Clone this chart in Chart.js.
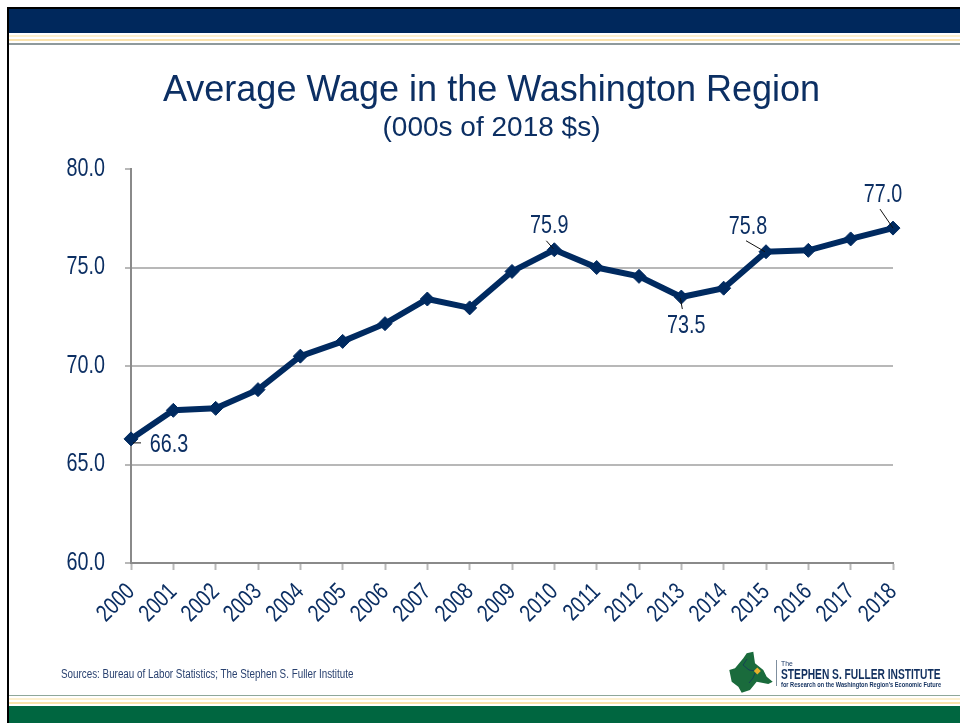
<!DOCTYPE html>
<html><head><meta charset="utf-8">
<style>
html,body{margin:0;padding:0;background:#fff;width:960px;height:723px;overflow:hidden}
.b{position:absolute;left:9px;right:0}
#wrap{position:absolute;left:0;top:0;width:960px;height:723px}
.t{position:absolute;white-space:nowrap;font-family:"Liberation Sans",Arial,sans-serif;color:#12305f;transform-origin:0 0}
.logo{position:absolute;left:729px;top:651px;width:231px;height:44px}
</style></head><body>
<div class="b" style="left:7px;top:7px;height:2px;background:#000"></div>
<div class="b" style="left:7px;width:2px;top:7px;height:716px;background:#000;right:auto"></div>
<div class="b" style="top:9px;height:24px;background:#00285c"></div>
<div class="b" style="top:35px;height:2px;background:#fdf0cf"></div>
<div class="b" style="top:39px;height:2px;background:#fbe3ad"></div>
<div class="b" style="top:43px;height:2px;background:#8f9a9c"></div>
<div class="b" style="top:695px;height:1px;background:#8fa79a"></div>
<div class="b" style="top:698px;height:2px;background:#fdf0cf"></div>
<div class="b" style="top:702px;height:2px;background:#fbe3ad"></div>
<div class="b" style="top:706px;height:17px;background:#006640"></div>
<div id="wrap"><canvas id="c" width="960" height="723"></canvas></div>
<div class="t" style="left:61px;top:667px;font-size:12px;transform:scaleX(.82);color:#2a4270">Sources: Bureau of Labor Statistics; The Stephen S. Fuller Institute</div>
<div class="logo">
<svg width="46" height="44" style="position:absolute;left:0;top:0" viewBox="0 0 46 44">
<path d="M0.3 19 L6 17.3 L14.3 7.3 L17.7 2.3 L24.3 0.7 L26 12.3 L34.3 19 L37.7 25.7 L43.7 30.7 L39.3 33 L27.7 30.7 L21 39 L12.7 41.7 L9.3 35.7 L2.7 30.7Z" fill="#1a6b3c"/>
<path d="M18 8 L14 14 L20 19 L27 20 L24 27 L20 32" fill="none" stroke="#12305f" stroke-width=".7"/>
<path d="M28.3 16.5 L31.8 20 L28.3 23.5 L24.8 20Z" fill="#e8b02a"/>
</svg>
<div style="position:absolute;left:47px;top:9px;width:1px;height:26px;background:#7f8f9f"></div>
<div class="t" style="left:52px;top:8px;font-size:8px;transform:scaleX(.85)">The</div>
<div class="t" style="left:52px;top:15px;font-size:14px;font-weight:bold;transform:scaleX(.73)">STEPHEN S. FULLER INSTITUTE</div>
<div class="t" style="left:52px;top:29px;font-size:8px;font-weight:bold;transform:scaleX(.708)">for Research on the Washington Region's Economic Future</div>
</div>
<script src="https://cdn.jsdelivr.net/npm/chart.js@4/dist/chart.umd.min.js"></script>
<script>
const years = ["2000","2001","2002","2003","2004","2005","2006","2007","2008","2009","2010","2011","2012","2013","2014","2015","2016","2017","2018"];
const wages = [66.3,67.75,67.85,68.8,70.5,71.25,72.15,73.4,72.95,74.8,75.9,75.0,74.55,73.5,73.95,75.8,75.87,76.45,77.0];
const yTicks = [60,65,70,75,80];
const labelled = [0,10,13,15,18];

const NAVY = "#002a60", TEXT = "#0c2f63", GRID = "#b8b8b8", AXIS = "#8a8a8a";
const SANS = '"Liberation Sans",Arial,sans-serif';
// label placement relative to the point: [label dx, label dy, leader start dx, dy, leader end dx, dy]
const place = {0:[38,6,2,4,10,4],10:[-5,-24,-8,-9,-1,-1],13:[5,29,-1,1,1,12],15:[-18,-25,-20,-11,-1,0],18:[-10,-33,-13,-19,0,0]};

const canvas = document.getElementById("c");
const ctx0 = canvas.getContext("2d");
// The reference's axis and value labels are set in a condensed cut: squeeze those sizes along the baseline.
const rawFill = ctx0.fillText.bind(ctx0);
ctx0.fillText = function(t,x,y){
  if (ctx0.font.startsWith("25px") || ctx0.font.startsWith("24px")) {
    ctx0.save(); ctx0.translate(x,y); ctx0.scale(0.79,1); rawFill(t,0,0); ctx0.restore();
  } else rawFill(t,x,y);
};

const annot = {
  id:"annot",
  afterDatasetsDraw(chart){
    const {ctx,scales:{x,y}} = chart;
    ctx.save();
    ctx.textAlign="center"; ctx.textBaseline="middle";
    ctx.font = '25px '+SANS;
    labelled.forEach(i=>{
      const px=x.getPixelForValue(i), py=y.getPixelForValue(wages[i]), p=place[i];
      ctx.strokeStyle="#111"; ctx.lineWidth=1;
      ctx.beginPath(); ctx.moveTo(px+p[2],py+p[3]); ctx.lineTo(px+p[4],py+p[5]); ctx.stroke();
      ctx.fillStyle=TEXT;
      ctx.fillText(wages[i].toFixed(1),px+p[0],py+p[1]);
    });
    ctx.restore();
  }
};

new Chart(canvas,{
  type:"line",
  data:{labels:years,datasets:[{data:wages,borderColor:NAVY,backgroundColor:NAVY,borderWidth:6,
    pointStyle:"rectRot",pointRadius:7,pointHoverRadius:7,pointBorderWidth:1,tension:0,clip:false}]},
  options:{
    responsive:false,animation:false,
    layout:{padding:{left:23,right:0,top:73,bottom:0}},
    plugins:{
      legend:{display:false},tooltip:{enabled:false},
      title:{display:true,text:"Average Wage in the Washington Region",color:TEXT,
        font:{family:SANS,size:36,weight:"normal",lineHeight:1.0},padding:{top:0,bottom:0}},
      subtitle:{display:true,text:"(000s of 2018 $s)",color:TEXT,
        font:{family:SANS,size:28,weight:"normal",lineHeight:1.0},padding:{top:5,bottom:27}}
    },
    scales:{
      x:{offset:false,
        afterFit(s){s.height=160;s.paddingRight=67;s.paddingLeft=0;},
        border:{color:AXIS,width:2},
        grid:{drawOnChartArea:false,drawTicks:true,tickLength:7,color:GRID,tickColor:GRID,tickWidth:2},
        ticks:{color:TEXT,font:{family:SANS,size:24},maxRotation:45,minRotation:45,padding:8,autoSkip:false}
      },
      y:{min:60,max:80,
        afterBuildTicks(s){s.ticks=yTicks.map(v=>({value:v}));},
        afterFit(s){s.width=108;},
        border:{color:AXIS,width:2},
        grid:{lineWidth:2,tickLength:6,color:c=>c.tick&&c.tick.value===80?"rgba(0,0,0,0)":GRID,tickColor:GRID},
        ticks:{color:TEXT,font:{family:SANS,size:25},padding:20,callback:v=>Number(v).toFixed(1)}
      }
    }
  },
  plugins:[annot]
});
</script></body></html>
